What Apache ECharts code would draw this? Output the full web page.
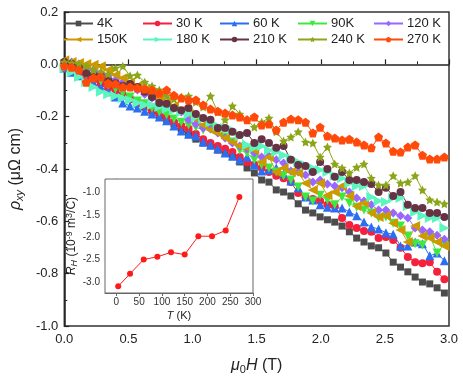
<!DOCTYPE html>
<html>
<head>
<meta charset="utf-8">
<script src="https://cdn.jsdelivr.net/npm/echarts@6/dist/echarts.min.js"></script>
<style>
html, body { margin: 0; padding: 0; background: #fff; }
#chart { width: 463px; height: 382px; }
</style>
</head>
<body>
<div id="chart"></div>
<script>
// field values (T)
var field = [0, 0.057, 0.114, 0.171, 0.228, 0.285, 0.342, 0.399, 0.456, 0.513,
    0.57, 0.627, 0.684, 0.741, 0.798, 0.855, 0.912, 0.969, 1.026, 1.083,
    1.14, 1.197, 1.254, 1.311, 1.368, 1.425, 1.482, 1.539, 1.596, 1.653,
    1.71, 1.767, 1.824, 1.881, 1.938, 1.995, 2.052, 2.109, 2.166, 2.223,
    2.28, 2.337, 2.394, 2.451, 2.508, 2.565, 2.622, 2.679, 2.736, 2.793,
    2.85, 2.907, 2.964];

// rho_xy (uOhm cm) for each temperature
var rho4K = [-0.007,-0.014,-0.026,-0.037,-0.052,-0.068,-0.083,-0.098,-0.119,-0.133,
    -0.148,-0.163,-0.179,-0.197,-0.212,-0.228,-0.247,-0.270,-0.286,-0.301,
    -0.312,-0.328,-0.339,-0.354,-0.373,-0.396,-0.415,-0.442,-0.450,-0.480,
    -0.488,-0.503,-0.533,-0.557,-0.568,-0.583,-0.594,-0.603,-0.618,-0.640,
    -0.664,-0.679,-0.694,-0.701,-0.721,-0.756,-0.775,-0.793,-0.813,-0.832,
    -0.839,-0.854,-0.874];
var rho30K = [-0.007,-0.022,-0.030,-0.048,-0.060,-0.075,-0.090,-0.102,-0.121,-0.133,
    -0.148,-0.159,-0.175,-0.190,-0.201,-0.221,-0.236,-0.247,-0.266,-0.286,
    -0.301,-0.312,-0.323,-0.335,-0.354,-0.373,-0.385,-0.396,-0.411,-0.426,
    -0.435,-0.450,-0.492,-0.507,-0.515,-0.522,-0.537,-0.542,-0.587,-0.614,
    -0.625,-0.637,-0.640,-0.664,-0.660,-0.671,-0.701,-0.736,-0.756,-0.760,
    -0.756,-0.793,-0.821];
var rho60K = [-0.014,-0.030,-0.044,-0.060,-0.072,-0.087,-0.105,-0.125,-0.148,-0.159,
    -0.167,-0.179,-0.190,-0.201,-0.216,-0.236,-0.255,-0.266,-0.274,-0.297,
    -0.308,-0.323,-0.339,-0.350,-0.365,-0.354,-0.385,-0.408,-0.404,-0.396,
    -0.419,-0.446,-0.472,-0.507,-0.518,-0.537,-0.546,-0.549,-0.549,-0.564,
    -0.579,-0.603,-0.622,-0.629,-0.644,-0.649,-0.694,-0.694,-0.679,-0.686,
    -0.732,-0.721,-0.751];
var rho90K = [0.001,-0.011,-0.022,-0.037,-0.052,-0.064,-0.079,-0.094,-0.110,-0.125,
    -0.140,-0.151,-0.167,-0.182,-0.194,-0.209,-0.221,-0.232,-0.240,-0.251,
    -0.243,-0.258,-0.278,-0.297,-0.328,-0.339,-0.365,-0.385,-0.396,-0.411,
    -0.426,-0.442,-0.469,-0.507,-0.522,-0.500,-0.518,-0.537,-0.507,-0.530,
    -0.546,-0.557,-0.568,-0.587,-0.583,-0.607,-0.618,-0.656,-0.686,-0.690,
    -0.656,-0.721,-0.686];
var rho120K = [0.001,0.009,0.001,-0.011,-0.022,-0.033,-0.044,-0.060,-0.068,-0.087,
    -0.098,-0.114,-0.129,-0.140,-0.155,-0.167,-0.182,-0.212,-0.228,-0.243,
    -0.247,-0.262,-0.282,-0.301,-0.312,-0.323,-0.339,-0.354,-0.350,-0.365,
    -0.377,-0.408,-0.411,-0.423,-0.450,-0.442,-0.457,-0.465,-0.472,-0.488,
    -0.511,-0.522,-0.537,-0.557,-0.557,-0.568,-0.579,-0.587,-0.625,-0.633,
    -0.640,-0.653,-0.668];
var rho150K = [0.016,0.009,0.005,0.001,-0.002,-0.007,-0.022,-0.041,-0.052,-0.068,
    -0.083,-0.098,-0.114,-0.129,-0.144,-0.159,-0.175,-0.190,-0.209,-0.232,
    -0.251,-0.262,-0.282,-0.297,-0.312,-0.319,-0.328,-0.373,-0.354,-0.411,
    -0.396,-0.411,-0.415,-0.454,-0.480,-0.454,-0.500,-0.488,-0.465,-0.503,
    -0.542,-0.530,-0.568,-0.583,-0.579,-0.607,-0.633,-0.679,-0.618,-0.656,
    -0.664,-0.679,-0.694];
var rho180K = [-0.014,-0.030,-0.048,-0.068,-0.087,-0.105,-0.114,-0.121,-0.129,-0.136,
    -0.148,-0.155,-0.155,-0.163,-0.171,-0.175,-0.182,-0.190,-0.201,-0.209,
    -0.221,-0.236,-0.243,-0.251,-0.274,-0.308,-0.319,-0.312,-0.328,-0.335,
    -0.347,-0.358,-0.373,-0.385,-0.396,-0.404,-0.411,-0.426,-0.435,-0.454,
    -0.465,-0.465,-0.507,-0.522,-0.526,-0.511,-0.511,-0.542,-0.564,-0.579,
    -0.587,-0.587,-0.625];
var rho210K = [0.009,0.001,-0.011,-0.033,-0.041,-0.044,-0.060,-0.072,-0.083,-0.075,
    -0.087,-0.105,-0.125,-0.148,-0.151,-0.167,-0.175,-0.167,-0.190,-0.205,
    -0.212,-0.243,-0.243,-0.258,-0.270,-0.262,-0.301,-0.286,-0.301,-0.319,
    -0.312,-0.365,-0.385,-0.389,-0.411,-0.373,-0.400,-0.430,-0.411,-0.442,
    -0.442,-0.450,-0.457,-0.488,-0.472,-0.503,-0.488,-0.537,-0.549,-0.549,
    -0.568,-0.568,-0.583];
var rho240K = [0.009,0.005,0.001,-0.007,-0.022,-0.029,-0.037,-0.014,-0.007,-0.044,
    -0.041,-0.068,-0.083,-0.098,-0.121,-0.133,-0.125,-0.121,-0.144,-0.163,
    -0.121,-0.182,-0.212,-0.159,-0.190,-0.212,-0.240,-0.221,-0.205,-0.258,
    -0.293,-0.278,-0.258,-0.297,-0.301,-0.354,-0.316,-0.381,-0.396,-0.415,
    -0.393,-0.381,-0.435,-0.461,-0.461,-0.426,-0.454,-0.450,-0.426,-0.480,
    -0.518,-0.526,-0.533];
var rho270K = [-0.007,-0.011,-0.022,-0.068,-0.052,-0.048,-0.072,-0.075,-0.087,-0.087,
    -0.090,-0.094,-0.098,-0.110,-0.098,-0.118,-0.129,-0.136,-0.136,-0.155,
    -0.171,-0.179,-0.186,-0.194,-0.201,-0.212,-0.201,-0.232,-0.228,-0.251,
    -0.221,-0.209,-0.212,-0.221,-0.262,-0.240,-0.274,-0.282,-0.289,-0.286,
    -0.297,-0.308,-0.319,-0.278,-0.301,-0.332,-0.335,-0.316,-0.308,-0.347,
    -0.362,-0.362,-0.354];

// inset: Hall coefficient vs temperature
var tempK = [4, 30, 60, 90, 120, 150, 180, 210, 240, 270];
var hallR = [-3.10, -2.82, -2.50, -2.44, -2.34, -2.39, -1.98, -1.98, -1.85, -1.10];

var tempTicks = [0, 50, 100, 150, 200, 250, 300];
var hallTicks = [-3.0, -2.5, -2.0, -1.5, -1.0];

var starPath = 'path://M0,-10L2.9,-4L9.5,-3.1L4.8,1.5L5.9,8.1L0,5L-5.9,8.1L-4.8,1.5L-9.5,-3.1L-2.9,-4Z';
var pentaPath = 'path://M0,-10L9.5,-3.1L5.9,8.1L-5.9,8.1L-9.5,-3.1Z';

var curves = [
    {name: '4K',    data: rho4K,   color: '#4d4d4d', symbol: 'rect',     rot: 0,   size: 7},
    {name: '30 K',  data: rho30K,  color: '#f5203c', symbol: 'circle',   rot: 0,   size: 8},
    {name: '60 K',  data: rho60K,  color: '#2b6ef2', symbol: 'triangle', rot: 0,   size: 9},
    {name: '90K',   data: rho90K,  color: '#3ee83e', symbol: 'triangle', rot: 180, size: 9},
    {name: '120 K', data: rho120K, color: '#9966ff', symbol: 'diamond',  rot: 0,   size: 9},
    {name: '150K',  data: rho150K, color: '#cc9900', symbol: 'triangle', rot: 90,  size: 10},
    {name: '180 K', data: rho180K, color: '#5cf5c0', symbol: 'triangle', rot: -90, size: 10},
    {name: '210 K', data: rho210K, color: '#663344', symbol: 'circle',   rot: 0,   size: 8},
    {name: '240 K', data: rho240K, color: '#8ca61a', symbol: starPath,   rot: 0,   size: 9},
    {name: '270 K', data: rho270K, color: '#ff4a0a', symbol: pentaPath,  rot: 0,   size: 9}
];

var font = 'Liberation Sans, Arial, sans-serif';
var colLeft = [63, 142, 219, 297, 373];
var rowTop = [17, 33];

var chart = echarts.init(document.getElementById('chart'), null, {renderer: 'canvas'});

var series = curves.map(function (c) {
    return {
        name: c.name,
        type: 'line',
        xAxisIndex: 0,
        yAxisIndex: 0,
        data: field.map(function (x, i) { return [x, c.data[i]]; }),
        symbol: c.symbol,
        symbolSize: c.size,
        symbolRotate: c.rot,
        showAllSymbol: true,
        lineStyle: {color: c.color, width: 1},
        itemStyle: {color: c.color},
        animation: false
    };
});

series.push({
    name: 'RH',
    type: 'line',
    xAxisIndex: 1,
    yAxisIndex: 1,
    data: tempK.map(function (t, i) { return [t, hallR[i]]; }),
    symbol: 'circle',
    symbolSize: 6,
    lineStyle: {color: '#ff1a1a', width: 1},
    itemStyle: {color: '#ff1a1a'},
    z: 5,
    animation: false
});

var legends = curves.map(function (c, k) {
    return {
        data: [c.name],
        left: colLeft[k % 5],
        top: rowTop[Math.floor(k / 5)],
        padding: 0,
        itemWidth: 29,
        itemHeight: 7,
        itemGap: 0,
        selectedMode: false,
        textStyle: {fontFamily: font, fontSize: 13, color: '#222', padding: [0, 0, 0, -1]}
    };
});

var option = {
    backgroundColor: '#fff',
    animation: false,
    legend: legends,
    grid: [
        {left: 58, top: 12, right: 14, bottom: 56, show: true, borderColor: '#333', borderWidth: 1.5},
        {left: 105, top: 179, width: 148, height: 114, show: true, borderColor: '#666', borderWidth: 1,
            backgroundColor: '#fff', z: 4}
    ],
    xAxis: [
        {
            type: 'value', gridIndex: 0, min: 0, max: 3, interval: 0.5,
            name: '{i|μ}{sub|0}{i|H} (T)',
            nameLocation: 'middle', nameGap: 31,
            nameTextStyle: {
                fontFamily: font, fontSize: 16, color: '#222',
                rich: {
                    i: {fontFamily: font, fontSize: 16, fontStyle: 'italic', color: '#222'},
                    sub: {fontFamily: font, fontSize: 11, color: '#222', padding: [7, 0, 0, 0]}
                }
            },
            axisLine: {lineStyle: {color: '#222', width: 1.5}},
            axisTick: {inside: true, length: 5, lineStyle: {color: '#222', width: 1.2}},
            minorTick: {show: true, splitNumber: 2, length: 3, lineStyle: {color: '#222', width: 1}},
            splitLine: {show: false},
            axisLabel: {fontFamily: font, fontSize: 13, color: '#222', margin: 7,
                formatter: function (v) { return v.toFixed(1); }}
        },
        {
            type: 'value', gridIndex: 1, min: -25, max: 300,
            name: '{i|T} (K)',
            nameLocation: 'middle', nameGap: 17,
            nameTextStyle: {
                fontFamily: font, fontSize: 11, color: '#222',
                rich: {i: {fontFamily: font, fontSize: 11, fontStyle: 'italic', color: '#222'}}
            },
            axisLine: {lineStyle: {color: '#666', width: 1}},
            axisTick: {show: true, inside: false, length: 3, customValues: tempTicks,
                lineStyle: {color: '#666'}},
            splitLine: {show: false},
            axisLabel: {fontFamily: font, fontSize: 10, color: '#333', margin: 4, customValues: tempTicks}
        }
    ],
    yAxis: [
        {
            type: 'value', gridIndex: 0, min: -1, max: 0.2, interval: 0.2,
            name: '{i|ρ}{sub|xy} (μΩ cm)',
            nameLocation: 'middle', nameGap: 31, nameRotate: 90,
            nameTextStyle: {
                fontFamily: font, fontSize: 16, color: '#222',
                rich: {
                    i: {fontFamily: font, fontSize: 16, fontStyle: 'italic', color: '#222'},
                    sub: {fontFamily: font, fontSize: 11, fontStyle: 'italic', color: '#222', padding: [7, 0, 0, 0]}
                }
            },
            axisLine: {lineStyle: {color: '#222', width: 1.5}},
            axisTick: {inside: true, length: 5, lineStyle: {color: '#222', width: 1.2}},
            minorTick: {show: true, splitNumber: 2, length: 3, lineStyle: {color: '#222', width: 1}},
            splitLine: {show: false},
            axisLabel: {fontFamily: font, fontSize: 13, color: '#222', margin: 6,
                formatter: function (v) { return v.toFixed(1); }}
        },
        {
            type: 'value', gridIndex: 1, min: -3.25, max: -0.7,
            name: '{i|R}{sub|H} (10{sup|-9} m{sup|3}/C)',
            nameLocation: 'middle', nameGap: 22, nameRotate: 90,
            nameTextStyle: {
                fontFamily: font, fontSize: 12, color: '#222',
                rich: {
                    i: {fontFamily: font, fontSize: 12, fontStyle: 'italic', color: '#222'},
                    sub: {fontFamily: font, fontSize: 9, fontStyle: 'italic', color: '#222', padding: [5, 0, 0, 0]},
                    sup: {fontFamily: font, fontSize: 9, color: '#222', padding: [0, 0, 5, 0]}
                }
            },
            axisLine: {lineStyle: {color: '#666', width: 1}},
            axisTick: {show: true, inside: false, length: 3, customValues: hallTicks,
                lineStyle: {color: '#666'}},
            splitLine: {show: false},
            axisLabel: {fontFamily: font, fontSize: 10, color: '#333', margin: 5, customValues: hallTicks,
                formatter: function (v) { return v.toFixed(1); }}
        }
    ],
    series: series
};

chart.setOption(option);
</script>
</body>
</html>
